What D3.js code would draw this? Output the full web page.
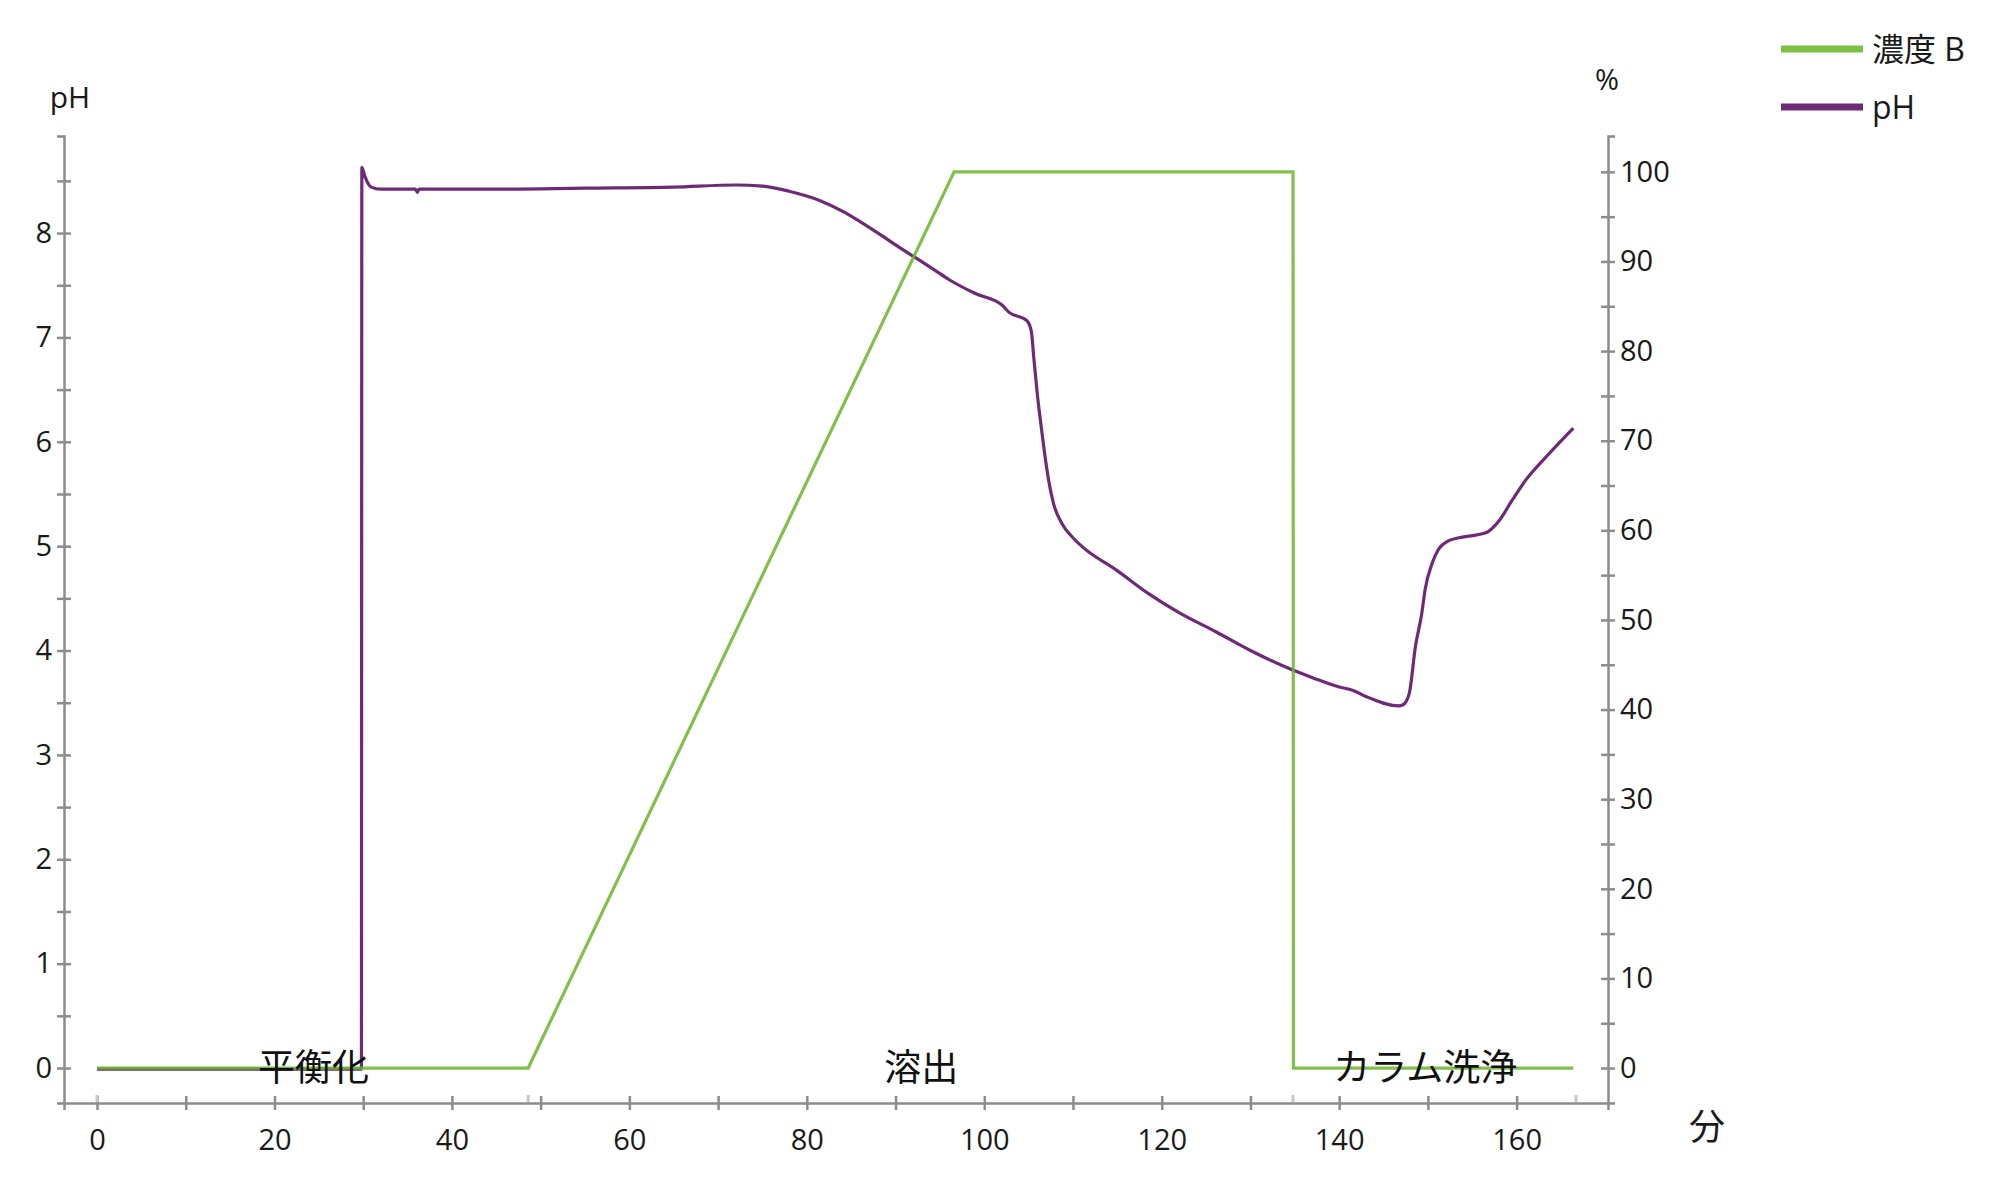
<!DOCTYPE html>
<html>
<head>
<meta charset="utf-8">
<script src="https://cdn.jsdelivr.net/npm/d3@7"></script>
<style>
  body { margin: 0; background: #fff; }
  text { font-family: "Open Sans", "Noto Sans", "Noto Sans CJK JP", sans-serif; }
</style>
</head>
<body>
<div id="chart"></div>
<script>
// concentration B (%) vs minutes
const concMinutes = [0, 48.6, 96.6, 134.8, 134.85, 166.4];
const concValues = [0, 0, 100, 100, 0, 0];

// pH vs minutes
const phMinutes = [0, 29.8, 29.85, 30.2, 30.9, 32, 35.9, 36.1, 36.3, 45, 55, 65, 72, 75, 78, 81.5, 84, 86, 88.2, 90.3, 92.5, 94.5, 96.1, 99, 102, 102.8, 104.8, 105.3, 105.6, 106, 106.5, 106.8, 107.3, 107.8, 108.8, 110, 111.1, 114.9, 118.6, 122, 126.1, 130, 134.3, 137, 140, 141.5, 143, 146.7, 147.2, 147.9, 148.6, 149.3, 149.7, 150.5, 151.2, 152.3, 153.5, 156.6, 158, 159.5, 161, 163.6, 166.4];
const phValues = [0, 0, 8.64, 8.55, 8.45, 8.43, 8.43, 8.4, 8.43, 8.43, 8.44, 8.45, 8.47, 8.46, 8.41, 8.32, 8.22, 8.12, 8.0, 7.88, 7.76, 7.65, 7.56, 7.43, 7.32, 7.25, 7.17, 7.07, 6.8, 6.45, 6.1, 5.9, 5.62, 5.42, 5.22, 5.09, 5.0, 4.78, 4.55, 4.37, 4.19, 4.01, 3.84, 3.75, 3.66, 3.63, 3.57, 3.48, 3.49, 3.6, 4.05, 4.36, 4.6, 4.85, 4.98, 5.06, 5.09, 5.14, 5.25, 5.45, 5.64, 5.89, 6.14];

// phase labels
const phaseNames = ['平衡化', '溶出', 'カラム洗浄'];
const phaseMinutes = [24.4, 92.9, 149.7];

// event markers on the time axis
const eventMinutes = [0, 48.6, 134.8, 166.7];

const xTicks = d3.range(0, 170, 10);
const phTicks = d3.range(0, 9, 0.5);
const pctTicks = d3.range(0, 101, 5);

const seriesNames = ['濃度 B', 'pH'];
const seriesColors = ['#6bb52c', '#6e2a76'];

let width = 2000;
let height = 1197;
let plot = { left: 64, right: 1608, top: 136, bottom: 1103 };

let svg = d3
  .select('#chart')
  .append('svg')
  .attr('width', width)
  .attr('height', height);

// Scales
let xScale = d3.scaleLinear().domain([-3.72, 170.3]).range([plot.left, plot.right]);
let phScale = d3.scaleLinear().domain([-0.335, 8.93]).range([plot.bottom, plot.top]);
let pctScale = d3.scaleLinear().domain([-3.9, 104]).range([plot.bottom, plot.top]);

let axisColor = '#8c8c8c';
let textColor = '#1a1a1a';

function styleAxis(g) {
  g.select('.domain').attr('stroke', axisColor).attr('stroke-width', 2.5);
  g.selectAll('.tick line').attr('stroke', axisColor).attr('stroke-width', 2.5);
  g.selectAll('.tick text')
    .attr('fill', textColor)
    .style('font-size', '29px');
}

// x axis
let xAxis = svg
  .append('g')
  .attr('transform', `translate(0, ${plot.bottom})`)
  .call(
    d3.axisBottom(xScale)
      .tickValues(xTicks)
      .tickSizeOuter(0)
      .tickSize(7)
      .tickPadding(19)
      .tickFormat((d) => (d % 20 === 0 ? d : ''))
  );
styleAxis(xAxis);
xAxis.selectAll('.tick line').attr('y1', -7).attr('y2', 7);

// left pH axis
let phAxis = svg
  .append('g')
  .attr('transform', `translate(${plot.left}, 0)`)
  .call(
    d3.axisLeft(phScale)
      .tickValues(phTicks)
      .tickSizeOuter(0)
      .tickSize(7)
      .tickPadding(5)
      .tickFormat((d) => (d % 1 === 0 ? d : ''))
  );
styleAxis(phAxis);
phAxis.selectAll('.tick line').attr('x1', 7).attr('x2', -7);

// right % axis
let pctAxis = svg
  .append('g')
  .attr('transform', `translate(${plot.right}, 0)`)
  .call(
    d3.axisRight(pctScale)
      .tickValues(pctTicks)
      .tickSizeOuter(0)
      .tickSize(7)
      .tickPadding(5)
      .tickFormat((d) => (d % 10 === 0 ? d : ''))
  );
styleAxis(pctAxis);
pctAxis.selectAll('.tick line').attr('x1', -7).attr('x2', 7);

// event markers
svg
  .selectAll('.event')
  .data(eventMinutes)
  .enter()
  .append('line')
  .attr('x1', (d) => xScale(d))
  .attr('x2', (d) => xScale(d))
  .attr('y1', plot.bottom - 8)
  .attr('y2', plot.bottom - 1)
  .attr('stroke', '#c8c8c8')
  .attr('stroke-width', 3);

// axis titles
svg.append('text')
  .attr('x', 70).attr('y', 97)
  .attr('dy', '0.35em')
  .attr('text-anchor', 'middle')
  .attr('fill', textColor)
  .style('font-size', '30px')
  .text('pH');

svg.append('text')
  .attr('x', 1607).attr('y', 80)
  .attr('dy', '0.35em')
  .attr('text-anchor', 'middle')
  .attr('fill', textColor)
  .style('font-size', '29px')
  .text('%');

svg.append('text')
  .attr('x', 1707).attr('y', 1127)
  .attr('dy', '0.35em')
  .attr('text-anchor', 'middle')
  .attr('fill', textColor)
  .style('font-size', '36px')
  .style('font-family', '"Noto Sans CJK JP", sans-serif')
  .text('分');

// lines
let phData = phMinutes.map((m, i) => ({ x: m, y: phValues[i] }));
let concData = concMinutes.map((m, i) => ({ x: m, y: concValues[i] }));

let phLine = d3
  .line()
  .curve(d3.curveMonotoneX)
  .x((d) => xScale(d.x))
  .y((d) => phScale(d.y) + 1);
let concLine = d3.line().x((d) => xScale(d.x)).y((d) => pctScale(d.y));

svg.append('path')
  .attr('d', phLine(phData))
  .attr('fill', 'none')
  .attr('stroke', seriesColors[1])
  .attr('stroke-width', 3.2)
  .attr('stroke-linejoin', 'round');

svg.append('path')
  .attr('d', concLine(concData))
  .attr('fill', 'none')
  .attr('stroke', seriesColors[0])
  .attr('stroke-width', 3.2)
  .attr('stroke-opacity', 0.85);

// phase labels
svg
  .selectAll('.phase')
  .data(phaseNames)
  .enter()
  .append('text')
  .attr('x', (d, i) => xScale(phaseMinutes[i]))
  .attr('y', phScale(0))
  .attr('dy', '0.36em')
  .attr('text-anchor', 'middle')
  .attr('fill', '#111')
  .style('font-size', '37px')
  .style('font-family', '"Noto Sans CJK JP", sans-serif')
  .text((d) => d);

// legend
let legend = svg.append('g').attr('transform', 'translate(1781, 49)');
seriesNames.forEach((name, i) => {
  let item = legend.append('g').attr('transform', `translate(0, ${i * 58})`);
  item.append('line')
    .attr('x1', 0).attr('x2', 82)
    .attr('stroke', i === 0 ? '#7dc142' : seriesColors[i])
    .attr('stroke-width', 7);
  item.append('text')
    .attr('x', 91)
    .attr('dy', '0.36em')
    .attr('fill', textColor)
    .style('font-size', '32px')
    .style('font-family', '"Open Sans", "Noto Sans CJK JP", sans-serif')
    .text(name);
});
</script>
</body>
</html>
